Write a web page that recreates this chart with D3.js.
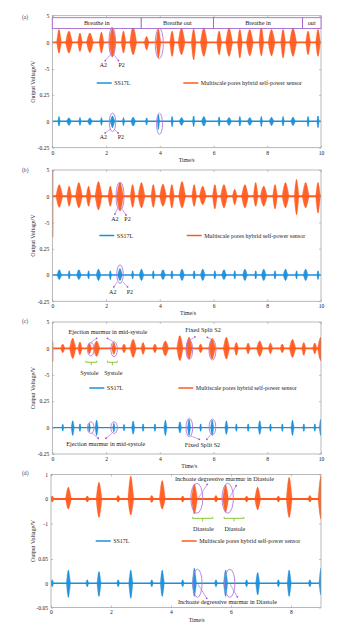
<!DOCTYPE html>
<html><head><meta charset="utf-8">
<script src="https://cdn.jsdelivr.net/npm/d3@7"></script>
<style>body{margin:0;background:#fff}svg{display:block;font-family:"Liberation Serif","Times New Roman",serif}</style>
</head><body><svg id="c" width="356" height="628"></svg>
<script>
// ================= DATA =================
const xTicksABC = [0, 2, 4, 6, 8, 10];
const xTicksD = [0, 2, 4, 6, 8];
const yTopTicksABC = [5, 0, -5];
const yBotTicksABC = [0.25, 0, -0.25];
const yTopTicksD = [1, 0, -1];
const yBotTicksD = [0.05, 0, -0.05];
const seriesNames = ["SS17L", "Multiscale pores hybrid self-power sensor"];
const xTitle = "Time/s";
const yTitle = "Output Voltage/V";
const panelLetters = ["(a)", "(b)", "(c)", "(d)"];

// bursts: [time s, kind (n narrow / f full / s spike), sensor up V, sensor down V, SS17L up V, SS17L down V]
const burstsA = [
  [0.25,'n',2.4,-2.0,0.045,-0.045],[0.62,'f',2.1,-2.0,0.032,-0.038],
  [1.03,'n',1.75,-1.7,0.035,-0.038],[1.40,'f',1.75,-1.9,0.032,-0.035],
  [1.83,'n',1.9,-2.0,0.035,-0.038],[2.24,'f',2.7,-2.75,0.05,-0.06],
  [2.65,'n',2.1,-2.0,0.035,-0.04],[3.01,'f',3.0,-2.3,0.038,-0.045],
  [3.51,'n',1.1,-1.4,0.032,-0.035],[3.95,'n',2.5,-2.9,0.067,-0.077],
  [4.46,'n',2.1,-2.6,0.045,-0.05],[4.81,'f',2.7,-2.3,0.035,-0.038],
  [5.26,'n',2.5,-3.25,0.05,-0.05],[5.64,'f',2.7,-2.6,0.045,-0.045],
  [6.21,'n',2.1,-2.3,0.04,-0.045],[6.58,'f',2.7,-2.6,0.035,-0.038],
  [6.98,'n',2.4,-2.9,0.045,-0.045],[7.35,'f',2.4,-2.5,0.035,-0.038],
  [7.78,'n',3.0,-2.5,0.045,-0.05],[8.16,'f',2.4,-2.5,0.038,-0.04],
  [8.59,'n',2.4,-2.9,0.045,-0.045],[8.96,'f',2.7,-2.6,0.038,-0.04],
  [9.52,'n',2.1,-2.3,0.045,-0.05],[9.89,'n',2.4,-2.6,0.05,-0.06]
];
const burstsB = [
  [0.00,'s',5.0,-7.8,0,0],
  [0.26,'f',2.2,-2.1,0.049,-0.043],[0.63,'n',1.9,-1.9,0.04,-0.037],
  [0.99,'f',2.6,-2.2,0.049,-0.043],[1.35,'n',1.9,-1.9,0.04,-0.037],
  [1.72,'f',2.8,-2.6,0.055,-0.052],[2.16,'n',1.9,-1.9,0.04,-0.043],
  [2.52,'f',2.6,-2.8,0.061,-0.052],[2.99,'n',2.2,-2.1,0.04,-0.037],
  [3.32,'f',2.6,-2.2,0.055,-0.052],[3.76,'n',2.2,-2.1,0.04,-0.037],
  [4.12,'f',2.3,-1.9,0.049,-0.043],[4.45,'n',2.2,-2.2,0.04,-0.037],
  [4.83,'f',2.8,-2.2,0.055,-0.052],[5.28,'n',2.2,-1.9,0.04,-0.037],
  [5.60,'f',1.9,-1.6,0.055,-0.052],[6.05,'n',2.2,-2.4,0.04,-0.037],
  [6.39,'f',2.2,-2.2,0.049,-0.043],[6.79,'n',1.3,-1.6,0.04,-0.037],
  [7.17,'f',2.2,-2.2,0.055,-0.052],[7.57,'n',2.6,-1.9,0.04,-0.037],
  [7.87,'f',1.9,-1.9,0.055,-0.052],[8.29,'n',2.2,-2.4,0.04,-0.037],
  [8.68,'f',2.6,-2.2,0.055,-0.052],[9.09,'n',3.2,-3.5,0.04,-0.037],
  [9.43,'f',2.6,-2.2,0.055,-0.052],[9.89,'n',2.6,-3.2,0.04,-0.043]
];
const burstsC = [
  [0.00,'s',1.3,-2.5,0,0],
  [0.39,'n',0.8,-0.8,0.032,-0.032],[0.76,'f',1.9,-1.9,0.064,-0.074],
  [1.03,'n',1.2,-1.2,0.035,-0.035],[1.38,'n',1.0,-1.0,0.04,-0.04],
  [1.65,'f',1.4,-1.5,0.07,-0.074],[2.29,'n',1.1,-1.1,0.04,-0.04],
  [2.67,'n',0.8,-0.8,0.03,-0.03],[3.01,'f',1.7,-1.7,0.062,-0.062],
  [3.38,'n',1.1,-1.1,0.035,-0.035],[3.82,'n',0.8,-0.8,0.035,-0.035],
  [4.21,'f',1.4,-1.4,0.07,-0.074],[4.75,'f',2.4,-2.3,0.054,-0.05],
  [5.09,'f',2.1,-2.0,0.077,-0.074],[5.52,'n',0.8,-0.8,0.035,-0.035],
  [5.95,'f',1.9,-2.0,0.07,-0.074],[6.48,'f',2.1,-2.0,0.064,-0.064],
  [6.85,'n',1.1,-1.3,0.035,-0.035],[7.29,'n',1.0,-1.0,0.035,-0.035],
  [7.72,'f',1.4,-1.5,0.064,-0.064],[8.12,'n',1.0,-1.0,0.035,-0.035],
  [8.56,'n',0.8,-0.8,0.035,-0.035],[8.94,'f',1.7,-1.7,0.07,-0.074],
  [9.36,'n',1.1,-1.3,0.035,-0.035],[9.77,'n',1.0,-1.0,0.035,-0.035],
  [9.99,'f',2.1,-2.3,0.077,-0.074]
];
const burstsD = [
  [0.04,'n',0.12,-0.12,0.007,-0.007],[0.58,'f',0.48,-0.41,0.027,-0.029],
  [1.21,'n',0.12,-0.12,0.007,-0.007],[1.60,'f',0.68,-0.75,0.024,-0.027],
  [2.24,'n',0.14,-0.12,0.007,-0.007],[2.66,'f',0.93,-0.65,0.027,-0.031],
  [3.36,'n',0.14,-0.14,0.007,-0.007],[3.71,'f',0.75,-0.41,0.027,-0.027],
  [4.39,'n',0.12,-0.12,0.007,-0.007],[4.78,'f',0.61,-0.61,0.031,-0.027],
  [5.50,'n',0.14,-0.12,0.007,-0.007],[5.82,'f',0.57,-0.54,0.027,-0.027],
  [6.52,'n',0.12,-0.12,0.007,-0.007],[6.89,'f',0.48,-0.44,0.022,-0.024],
  [7.58,'n',0.12,-0.12,0.007,-0.007],[7.94,'f',0.88,-0.75,0.027,-0.027],
  [8.63,'n',0.14,-0.12,0.007,-0.007],[9.00,'f',0.93,-0.82,0.031,-0.024]
];
const breathPhases = [[0,3.31,"Breathe in"],[3.31,6.0,"Breathe out"],[6.0,9.31,"Breathe in"],[9.31,10,"out"]];
const breathBand = [4.62, 2.61]; // V on sensor scale

// annotations: ellipses [series, t, v, rx s, ry v]; arrows [series, t0, v0, tDot, vDot]; labels [series, t, v, text]; brackets [series, t0, t1, v]
const annA = {
  ellipses: [['o',2.23,0.1,0.12,2.75],['o',3.98,-0.2,0.15,2.85],['b',2.24,-0.01,0.12,0.087],['b',3.99,-0.024,0.11,0.1]],
  arrows: [['o',2.18,-2.2,1.97,-3.4],['o',2.31,-2.4,2.46,-3.4],['b',2.18,-0.07,1.97,-0.11],['b',2.3,-0.075,2.45,-0.11]],
  labels: [['o',1.9,-4.3,'A2'],['o',2.58,-4.3,'P2'],['b',1.9,-0.152,'A2'],['b',2.55,-0.152,'P2']],
  brackets: []
};
const annB = {
  ellipses: [['o',2.52,0,0.15,2.67],['b',2.52,0.008,0.12,0.088]],
  arrows: [['o',2.43,-2.3,2.33,-3.4],['o',2.6,-2.5,2.74,-3.57],['b',2.42,-0.066,2.29,-0.113],['b',2.62,-0.066,2.8,-0.113]],
  labels: [['o',2.33,-4.35,'A2'],['o',2.8,-4.35,'P2'],['b',2.25,-0.161,'A2'],['b',2.89,-0.161,'P2']],
  brackets: []
};
const annC = {
  ellipses: [['o',1.43,-0.17,0.123,1.27],['o',2.30,-0.15,0.123,1.42],['o',5.10,-0.25,0.123,1.84],['o',5.96,-0.25,0.13,1.95],
             ['b',1.43,0,0.123,0.055],['b',2.30,0,0.123,0.055],['b',5.10,0,0.123,0.087],['b',5.96,0.006,0.123,0.074]],
  arrows: [['o',1.43,1.1,1.65,1.9],['o',2.26,1.3,2.05,1.9],['o',5.12,1.55,5.31,2.2],['o',5.92,1.7,5.77,2.1],
           ['b',1.48,-0.051,1.71,-0.101],['b',2.22,-0.054,2.0,-0.101],['b',5.16,-0.08,5.47,-0.111],['b',5.9,-0.065,5.75,-0.111]],
  labels: [['o',2.07,3.05,'Ejection murmur in mid-systole'],['o',5.61,3.5,'Fixed Split S2'],['o',1.38,-4.6,'Systole'],['o',2.27,-4.6,'Systole'],
           ['b',1.99,-0.155,'Ejection murmur in mid-systole'],['b',5.59,-0.162,'Fixed Split S2']],
  brackets: [['o',1.25,1.65,-2.63],['o',2.05,2.42,-2.63]]
};
const annD = {
  ellipses: [['o',4.86,0.03,0.2,0.61],['o',5.89,0.03,0.19,0.61],['b',4.88,0,0.155,0.029],['b',5.96,0,0.17,0.029]],
  arrows: [['o',4.92,0.05,5.21,0.6],['o',5.95,0.05,6.17,0.54],['b',4.9,-0.002,5.19,-0.031],['b',5.97,-0.002,6.21,-0.028]],
  labels: [['o',5.78,0.82,'Inchoate degressive murmur in Diastole'],['o',5.08,-1.22,'Diastole'],['o',6.13,-1.22,'Diastole'],
           ['b',5.88,-0.038,'Inchoate degressive murmur in Diastole']],
  brackets: [['o',4.72,5.39,-0.79],['o',5.77,6.43,-0.79]]
};

// ================= STYLE / LAYOUT =================
const C = {orange:'#ff5a1e', blue:'#1d8fda', purple:'#b27ad8', box:'#9c55c8', dot:'#a24fd0', green:'#8cc63f', axis:'#9a9a9a', text:'#222'};
const panels = [
  {bursts:burstsA, ann:annA, xMax:10, xTicks:xTicksABC, x0:52.3, x1:321, oR:[69.1,15.7], bR:[147.7,94.9], oDom:[-5,5], bDom:[-0.25,0.25],
   oTicks:yTopTicksABC, bTicks:yBotTicksABC, legY:83, legX:[96.7,183.3], xtX:186.7, letterY:17, breath:true,
   w:{o:{n:0.09,f:0.13}, b:{n:0.045,f:0.09}}},
  {bursts:burstsB, ann:annB, xMax:10, xTicks:xTicksABC, x0:52.3, x1:321, oR:[222.5,170], bR:[301.25,248.75], oDom:[-5,5], bDom:[-0.25,0.25],
   oTicks:yTopTicksABC, bTicks:yBotTicksABC, legY:235.5, legX:[99.3,186.7], xtX:188, letterY:170,
   w:{o:{n:0.09,f:0.13}, b:{n:0.045,f:0.09}}},
  {bursts:burstsC, ann:annC, xMax:10, xTicks:xTicksABC, x0:52.3, x1:321, oR:[374.8,322], bR:[454,401.2], oDom:[-5,5], bDom:[-0.25,0.25],
   oTicks:yTopTicksABC, bTicks:yBotTicksABC, legY:388, legX:[89.3,178.3], xtX:189.3, letterY:321,
   w:{o:{n:0.08,f:0.12}, b:{n:0.04,f:0.06}}},
  {bursts:burstsD, ann:annD, xMax:9, xTicks:xTicksD, x0:51, x1:321, oR:[523.5,474.5], bR:[607.5,559], oDom:[-1,1], bDom:[-0.05,0.05],
   oTicks:yTopTicksD, bTicks:yBotTicksD, legY:541, legX:[95.7,181.7], xtX:196.7, letterY:473,
   w:{o:{n:0.07,f:0.1}, b:{n:0.05,f:0.07}}}
];
// normalised burst glyph outline (half-width units, fraction of amplitude)
const tpl = [[-1,0],[-0.8,0.3],[-0.5,0.72],[-0.2,0.95],[0,1],[0.25,0.9],[0.55,0.6],[0.8,0.28],[1,0]];

// ================= DRAW =================
const svg = d3.select('#c');
svg.append('rect').attr('width',356).attr('height',628).attr('fill','#fff');
const defs = svg.append('defs');
defs.append('filter').attr('id','soft').attr('x','-20%').attr('y','-20%').attr('width','140%').attr('height','140%')
  .append('feGaussianBlur').attr('stdDeviation', 0.35);

panels.forEach((p, i) => {
  const x = d3.scaleLinear().domain([0, p.xMax]).range([p.x0, p.x1]);
  const yo = d3.scaleLinear().domain(p.oDom).range(p.oR);
  const yb = d3.scaleLinear().domain(p.bDom).range(p.bR);
  const ys = s => s === 'o' ? yo : yb;
  const top = p.oR[1], bot = p.bR[0];
  const g = svg.append('g');

  const clipId = 'clip' + i;
  g.append('clipPath').attr('id', clipId).append('rect')
    .attr('x', p.x0).attr('y', top).attr('width', p.x1 - p.x0).attr('height', bot - top);
  const sig = g.append('g').attr('clip-path', `url(#${clipId})`).append('g').attr('filter', 'url(#soft)');

  // baselines
  const line = d3.line();
  sig.append('path').attr('d', line([[x(0), yo(0)], [x(p.xMax), yo(0)]])).attr('stroke', C.orange).attr('stroke-width', 1.9).attr('fill','none');
  sig.append('path').attr('d', line([[x(0), yb(0)], [x(p.xMax), yb(0)]])).attr('stroke', C.blue).attr('stroke-width', 1.4).attr('fill','none');

  // bursts
  function glyph(sel, t, up, dn, hw, yS, color) {
    const ptsTop = tpl.map(([u, a]) => [x(t + u * hw), yS(a * up)]);
    const ptsBot = tpl.slice().reverse().map(([u, a]) => [x(t + u * hw), yS(a * dn)]);
    sel.append('path').attr('d', line(ptsTop.concat(ptsBot)) + 'Z').attr('fill', color).attr('fill-opacity', 0.92).attr('stroke', color).attr('stroke-width', 0.3);
    sel.append('path').attr('d', line([[x(t), yS(up)], [x(t), yS(dn)]])).attr('stroke', color).attr('stroke-width', 0.8);
  }
  p.bursts.forEach(([t, k, ou, od, bu, bd]) => {
    if (k === 's') {
      sig.append('path').attr('d', line([[x(t) + 0.5, yo(ou)], [x(t) + 0.5, yo(od)]])).attr('stroke', C.orange).attr('stroke-width', 1);
      return;
    }
    glyph(sig, t, ou, od, p.w.o[k], yo, C.orange);
    glyph(sig, t, bu, bd, p.w.b[k], yb, C.blue);
  });

  // frame & axes
  g.append('rect').attr('x', p.x0).attr('y', top).attr('width', p.x1 - p.x0).attr('height', bot - top)
    .attr('fill', 'none').attr('stroke', C.axis).attr('stroke-width', 0.7);
  const styleAxis = sel => {
    sel.select('.domain').remove();
    sel.selectAll('.tick line').attr('stroke', C.axis).attr('stroke-width', 0.6);
    sel.selectAll('.tick text').attr('fill', C.text).style('font-size', '5.6px').style('font-family', '"Liberation Serif",serif');
  };
  g.append('g').attr('transform', `translate(0,${bot})`)
    .call(d3.axisBottom(x).tickValues(p.xTicks).tickSizeInner(-2).tickSizeOuter(0).tickPadding(3).tickFormat(d3.format('d'))).call(styleAxis);
  g.append('g').attr('transform', `translate(0,${top})`)
    .call(d3.axisTop(x).tickValues(p.xTicks).tickSizeInner(-2).tickSizeOuter(0).tickFormat('')).call(styleAxis);
  [[yo, p.oTicks], [yb, p.bTicks]].forEach(([sc, tk]) => {
    g.append('g').attr('transform', `translate(${p.x0},0)`)
      .call(d3.axisLeft(sc).tickValues(tk).tickSizeInner(-2).tickSizeOuter(0).tickPadding(3).tickFormat(d => d === 0 ? '0' : String(d))).call(styleAxis);
    g.append('g').attr('transform', `translate(${p.x1},0)`)
      .call(d3.axisRight(sc).tickValues(tk).tickSizeInner(-2).tickSizeOuter(0).tickFormat('')).call(styleAxis);
  });

  // titles
  g.append('text').attr('x', p.xtX).attr('y', bot + 14.2).attr('text-anchor', 'middle').attr('fill', C.text).style('font-size', '5.8px').text(xTitle);
  g.append('text').attr('transform', `translate(34.5,${(top + bot) / 2}) rotate(-90)`).attr('text-anchor', 'middle').attr('fill', C.text).style('font-size', '6px').text(yTitle);
  g.append('text').attr('x', 22).attr('y', p.letterY + 1.5).attr('fill', '#444').style('font-size', '5.6px').text(panelLetters[i]);

  // legend
  const leg = [[seriesNames[0], C.blue, p.legX[0]], [seriesNames[1], C.orange, p.legX[1]]];
  leg.forEach(([name, col, lx]) => {
    g.append('line').attr('x1', lx).attr('x2', lx + 15).attr('y1', p.legY).attr('y2', p.legY).attr('stroke', col).attr('stroke-width', 1.5);
    g.append('text').attr('x', lx + 17.5).attr('y', p.legY + 2).attr('fill', C.text).style('font-size', '6px').text(name);
  });

  // breathing phases
  if (p.breath) {
    breathPhases.forEach(([t0, t1, lab]) => {
      g.append('rect').attr('x', x(t0)).attr('y', yo(breathBand[0])).attr('width', x(t1) - x(t0)).attr('height', yo(breathBand[1]) - yo(breathBand[0]))
        .attr('fill', '#fff').attr('stroke', C.box).attr('stroke-width', 0.8);
      g.append('text').attr('x', x((t0 + t1) / 2)).attr('y', (yo(breathBand[0]) + yo(breathBand[1])) / 2 + 2).attr('text-anchor', 'middle')
        .attr('fill', C.text).style('font-size', '6.2px').text(lab);
    });
  }

  // annotations
  const a = p.ann;
  a.ellipses.forEach(([s, t, v, rx, ry]) => {
    const sc = ys(s);
    g.append('ellipse').attr('cx', x(t)).attr('cy', sc(v)).attr('rx', x(t + rx) - x(t)).attr('ry', sc(0) - sc(ry))
      .attr('fill', 'none').attr('stroke', C.purple).attr('stroke-width', 0.9);
  });
  a.arrows.forEach(([s, t0, v0, t1, v1]) => {
    const sc = ys(s);
    g.append('path').attr('d', line([[x(t0), sc(v0)], [x(t1), sc(v1)]])).attr('stroke', C.purple).attr('stroke-width', 0.7).attr('fill', 'none');
    g.append('circle').attr('cx', x(t1)).attr('cy', sc(v1)).attr('r', 0.9).attr('fill', C.dot);
  });
  a.brackets.forEach(([s, t0, t1, v]) => {
    const sc = ys(s), yy = sc(v), xm = x((t0 + t1) / 2);
    g.append('path').attr('d', line([[x(t0), yy - 1.5], [x(t0), yy], [x(t1), yy], [x(t1), yy - 1.5]]))
      .attr('stroke', C.green).attr('stroke-width', 1).attr('fill', 'none');
    g.append('path').attr('d', line([[xm, yy], [xm, yy + 3]])).attr('stroke', C.green).attr('stroke-width', 1);
  });
  a.labels.forEach(([s, t, v, txt]) => {
    const sc = ys(s);
    g.append('text').attr('x', x(t)).attr('y', sc(v) + 2).attr('text-anchor', 'middle').attr('fill', C.text)
      .style('font-size', txt.length > 3 ? '6.2px' : '6px').text(txt);
  });
});
</script></body></html>
